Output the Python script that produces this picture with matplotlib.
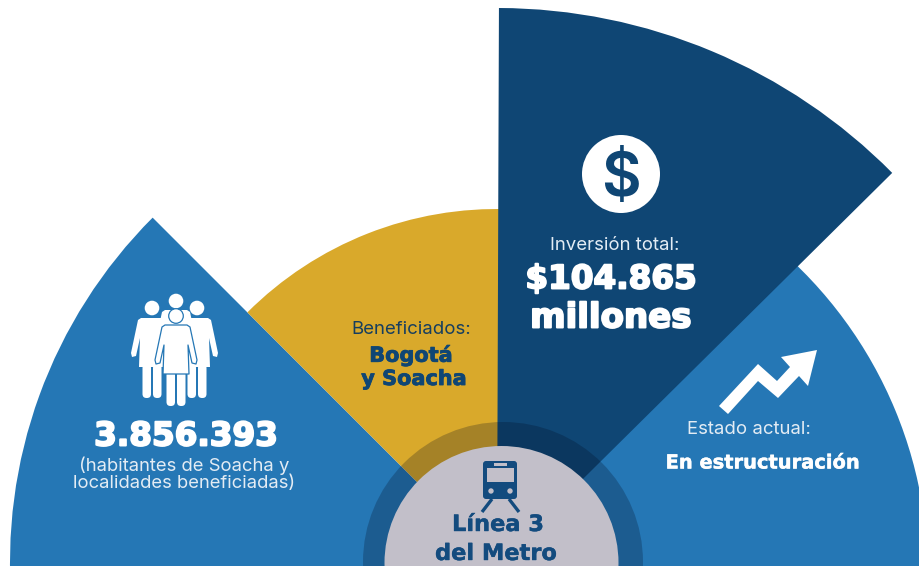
import matplotlib
matplotlib.use("Agg")
import matplotlib.pyplot as plt
import matplotlib.patheffects as pe
from matplotlib.patches import Wedge, Circle, Polygon, FancyBboxPatch, Rectangle

W, H = 920, 566

# sectors: centre x, centre y, theta1, theta2, radius, colour
sector_names = ["estado", "habitantes", "beneficiados", "inversion"]
sector_cx = [497, 497, 497, 497]
sector_cy = [575, 562, 562, 564]
sector_theta1 = [-5, 135, 88, 44.7]
sector_theta2 = [50, 185, 135, 89.8]
sector_radius = [431, 487, 353, 556]
sector_color = ["#2577B5", "#2577B5", "#D9A92B", "#0F4674"]

label_inversion = ["Inversión total:", "$104.865", "millones"]
label_benef = ["Beneficiados:", "Bogotá", "y Soacha"]
label_habit = ["3.856.393", "(habitantes de Soacha y", "localidades beneficiadas)"]
label_estado = ["Estado actual:", "En estructuración"]
label_center = ["Línea 3", "del Metro"]

FONT = "Inter"
BOLD = "DejaVu Sans"
NAVY = "#0F4674"
WHITE = "white"
BLUE = "#134B7E"

fig = plt.figure(figsize=(W / 100, H / 100), dpi=100, facecolor="white")
ax = fig.add_axes([0, 0, 1, 1])
ax.set_xlim(0, W)
ax.set_ylim(0, H)
ax.axis("off")


def Y(y):
    return H - y


def P(pts):
    return [(x, Y(y)) for x, y in pts]


for cx, cy, t1, t2, r, c in zip(sector_cx, sector_cy, sector_theta1, sector_theta2, sector_radius, sector_color):
    ax.add_patch(Wedge((cx, Y(cy)), r, t1, t2, fc=c, ec="none", zorder=2))

# ring and hub
ax.add_patch(Circle((503, Y(562)), 140, fc="#00081E", ec="none", alpha=0.24, zorder=3))
ax.add_patch(Circle((501.5, Y(563)), 117, fc="#C2BFC9", ec="none", zorder=4))


def figure_person(cx, head_y, shoulder_y, foot_y, hem_y, outline=False):
    lw = 0.9 if outline else 0
    ec = "#2577B5" if outline else "none"
    body = [(cx - 11, shoulder_y), (cx + 11, shoulder_y), (cx + 14, shoulder_y + 2),
            (cx + 21, shoulder_y + 35), (cx + 20, shoulder_y + 39), (cx + 16, shoulder_y + 38),
            (cx + 12, shoulder_y + 20), (cx + 13, hem_y), (cx - 13, hem_y),
            (cx - 12, shoulder_y + 20), (cx - 16, shoulder_y + 38), (cx - 20, shoulder_y + 39),
            (cx - 21, shoulder_y + 35), (cx - 14, shoulder_y + 2)]
    for lx in (-9.5, 1):
        ax.add_patch(FancyBboxPatch((cx + lx, Y(foot_y)), 8.5, foot_y - hem_y + 3,
                                    boxstyle="round,pad=0,rounding_size=4", fc=WHITE, ec="none", zorder=6))
    ax.add_patch(Polygon(P(body), closed=True, fc=WHITE, ec=ec, lw=lw, zorder=6, joinstyle="round"))
    ax.add_patch(Circle((cx, Y(head_y)), 7.3, fc=WHITE, ec=ec, lw=lw, zorder=6))


figure_person(176, 301, 310, 340, 330)
figure_person(152, 308, 318, 398, 367)
figure_person(197, 308, 318, 398, 367)
figure_person(176, 316, 325, 406, 374, outline=True)

# dollar icon
ax.add_patch(Circle((621, Y(174)), 39, fc=WHITE, ec="none", zorder=6))
ax.text(621, Y(174), "$", color=NAVY, fontsize=44, family=FONT, weight="semibold",
        ha="center", va="center_baseline", zorder=7)

# arrow icon
arrow = [(719, 406), (758, 364), (777, 381), (790, 367), (781, 357), (817, 350),
         (808, 386), (799, 376), (778, 398), (758, 381), (728, 414)]
ax.add_patch(Polygon(P(arrow), closed=True, fc=WHITE, ec="none", zorder=6))

# train icon
ax.add_patch(FancyBboxPatch((486, Y(496)), 28, 32, boxstyle="round,pad=3", fc=BLUE, ec="none", zorder=6))
ax.add_patch(Rectangle((487, Y(482)), 27, 14, fc="#C2BFC9", ec="none", zorder=7))
ax.add_patch(Rectangle((494, Y(466)), 13, 3, fc="#C2BFC9", ec="none", zorder=7))
for x in (491, 510):
    ax.add_patch(Circle((x, Y(491)), 2.7, fc="#C2BFC9", ec="none", zorder=7))
for xs in ((492, 482), (509, 519)):
    ax.plot(xs, (Y(499), Y(512)), color=BLUE, lw=2.4, solid_capstyle="butt", zorder=6)


def T(x, y, s, size, color, weight="normal", stroke=0.0, family=FONT):
    t = ax.text(x, Y(y), s, fontsize=size, color=color, family=family, weight=weight,
                ha="center", va="center", zorder=8)
    if stroke:
        t.set_path_effects([pe.withStroke(linewidth=stroke, foreground=color)])
    return t


LIGHT = "#E3ECF4"
T(615, 245, label_inversion[0], 13.4, LIGHT)
T(611, 279, label_inversion[1], 23.5, WHITE, "bold", 1.4, BOLD)
T(611, 318, label_inversion[2], 24.5, WHITE, "bold", 1.4, BOLD)
T(411, 329, label_benef[0], 13.4, "#163E5F")
T(411, 355, label_benef[1], 15, NAVY, "bold", 0.6, BOLD)
T(414, 379, label_benef[2], 15, NAVY, "bold", 0.6, BOLD)
T(186, 436, label_habit[0], 23.5, WHITE, "bold", 1.4, BOLD)
T(184, 466, label_habit[1], 13.3, LIGHT)
T(184, 483, label_habit[2], 13.3, LIGHT)
T(749, 430, label_estado[0], 13.4, LIGHT)
T(763, 463, label_estado[1], 14, WHITE, "bold", 0.3, BOLD)
T(498, 525, label_center[0], 16.2, BLUE, "bold", 0.3, BOLD)
T(496, 554, label_center[1], 16.2, BLUE, "bold", 0.3, BOLD)

fig.savefig("out.png", dpi=100, facecolor="white")
